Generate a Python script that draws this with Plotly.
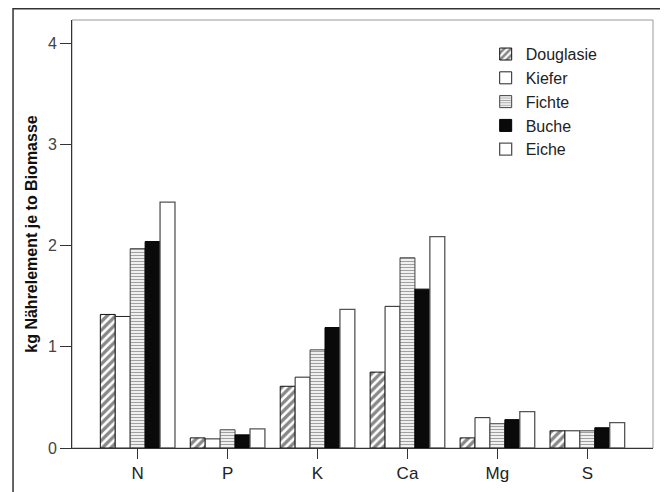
import plotly.graph_objects as go

categories = ["N", "P", "K", "Ca", "Mg", "S"]
series_names = ["Douglasie", "Kiefer", "Fichte", "Buche", "Eiche"]
douglasie = [1.32, 0.10, 0.61, 0.75, 0.10, 0.17]
kiefer = [1.30, 0.09, 0.70, 1.40, 0.30, 0.17]
fichte = [1.97, 0.18, 0.97, 1.88, 0.24, 0.17]
buche = [2.04, 0.13, 1.19, 1.57, 0.28, 0.20]
eiche = [2.43, 0.19, 1.37, 2.09, 0.36, 0.25]
y_ticks = [0, 1, 2, 3, 4]

series_values = [douglasie, kiefer, fichte, buche, eiche]
styles = [
    dict(color="white", line=dict(color="#111", width=1),
         pattern=dict(shape="/", fgcolor="#111", bgcolor="white", size=6, solidity=0.55)),
    dict(color="white", line=dict(color="#222", width=1)),
    dict(color="white", line=dict(color="#444", width=1),
         pattern=dict(shape="-", fgcolor="#444", bgcolor="white", size=3, solidity=0.45)),
    dict(color="#0a0a0a", line=dict(color="#000", width=1)),
    dict(color="white", line=dict(color="#555", width=1.3)),
]

fig = go.Figure()
for name, vals, st in zip(series_names, series_values, styles):
    fig.add_trace(go.Bar(x=categories, y=vals, name=name, marker=st))

font = "Liberation Sans, Arial, sans-serif"
fig.update_layout(
    width=660, height=484,
    margin=dict(l=64, r=15, t=12, b=44, autoexpand=False),
    paper_bgcolor="white", plot_bgcolor="white",
    barmode="group", bargap=0.17, bargroupgap=0,
    font=dict(family=font, color="#222"),
    showlegend=True,
    legend=dict(x=0.712, y=0.96, xanchor="left", yanchor="top",
                font=dict(size=16, color="#222"), bgcolor="rgba(0,0,0,0)",
                tracegroupgap=0, itemwidth=30),
    xaxis=dict(range=[-0.73, 5.73], showline=True, linecolor="#333", linewidth=1,
               ticks="outside", ticklen=10, tickcolor="#333", automargin=False,
               tickfont=dict(size=17, color="#222"), showgrid=False, zeroline=False),
    yaxis=dict(range=[0, 4.23], tickvals=y_ticks, showline=True, linecolor="#333",
               linewidth=1, ticks="outside", ticklen=11, tickcolor="#333", automargin=False,
               tickfont=dict(size=16, color="#444"), showgrid=False, zeroline=False,
               title=dict(text="<b>kg Nährelement je to Biomasse</b>",
                          font=dict(size=16, color="#111"), standoff=6)),
    shapes=[
        dict(type="rect", xref="paper", yref="paper", x0=0, x1=1, y0=0, y1=1,
             line=dict(color="#999", width=1), layer="below"),
        dict(type="rect", xref="paper", yref="paper", x0=-0.1015, x1=1.017,
             y0=-0.2, y1=1.026, line=dict(color="#333", width=1.5)),
    ],
)

fig.write_html("out.html")
